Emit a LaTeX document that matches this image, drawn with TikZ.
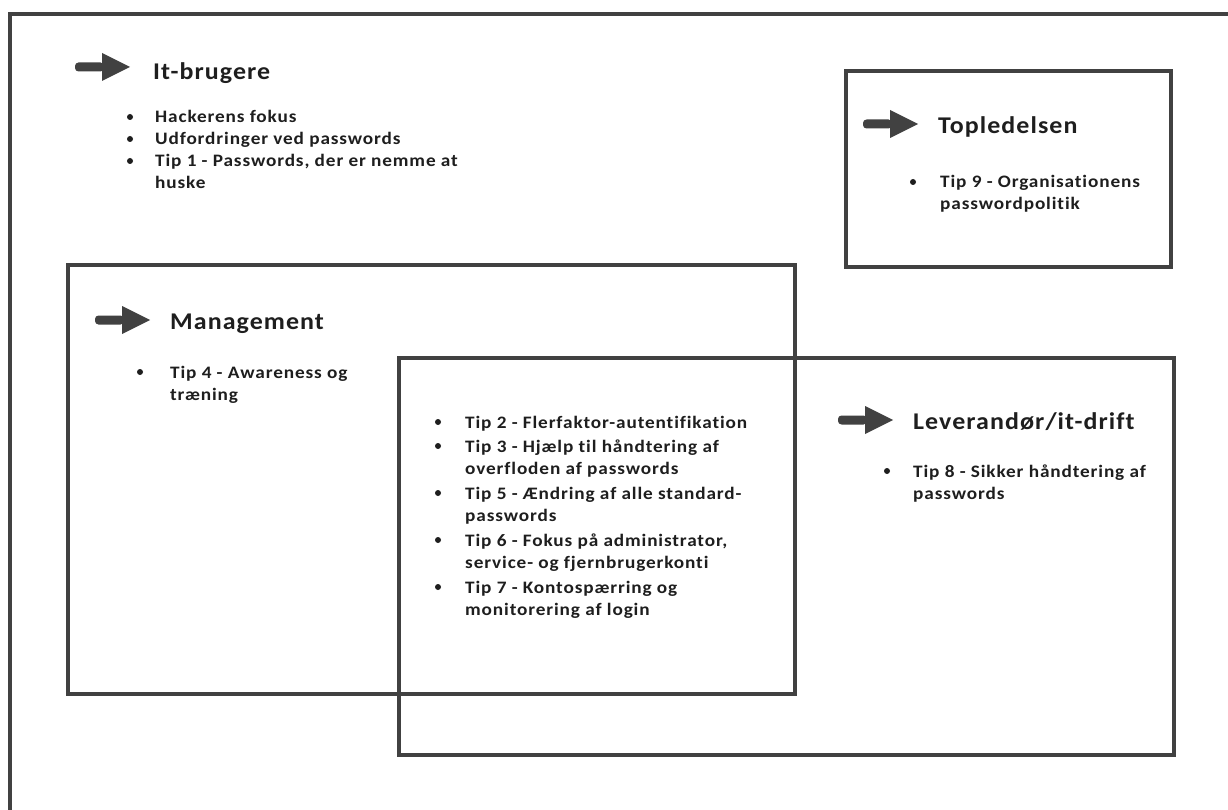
\documentclass[tikz,border=0pt]{standalone}
\usepackage{fontspec}
\setmainfont{Carlito}
\newfontfamily\bodyfont{Carlito}[FakeStretch=1.1,LetterSpace=5,Ligatures=NoCommon]
\newfontfamily\headfont{Carlito}[FakeStretch=1.08,LetterSpace=4.5,Ligatures=NoCommon]
\definecolor{frame}{HTML}{414141}
\definecolor{ink}{HTML}{1E1E1E}
\tikzset{
  x=1pt, y=-1pt,
  boxline/.style={draw=frame, line width=3.4pt},
  title/.style={anchor=base west, inner sep=0pt, text=ink, font=\headfont\fontsize{24}{28}\selectfont\bfseries},
  item/.style={anchor=base west, inner sep=0pt, text=ink, font=\bodyfont\fontsize{17.5}{21}\selectfont\bfseries},
  dot/.style={circle, fill=ink, inner sep=0pt, minimum size=6pt},
}
\newcommand{\blockarrow}[2]{% tail-left x, center y
  \fill[frame, rounded corners=3.5pt] (#1,#2-4.5) -- (#1+29,#2-4.5) -- (#1+29,#2+4.5) -- (#1,#2+4.5) -- cycle;
  \fill[frame] (#1+27,#2-14) -- (#1+55,#2) -- (#1+27,#2+14) -- cycle;
}
\begin{document}
\begin{tikzpicture}
\useasboundingbox (0,0) rectangle (1228,810);
\fill[white] (0,0) rectangle (1228,810);
% outer frame (open to the right and bottom)
\draw[boxline] (1230,14) -- (10,14) -- (10,812);
% boxes
\draw[boxline] (846,71) rectangle (1171,267);
\draw[boxline] (68,265) rectangle (795,694);
\draw[boxline] (399,358) rectangle (1174,755);

% It-brugere
\blockarrow{75}{67}
\node[title] (t1) at (153,80) {It-brugere};
\node[dot] (d11) at (130,117) {};
\node[item] (i11) at (155,123) {Hackerens fokus};
\node[dot] (d12) at (130,139) {};
\node[item] (i12) at (155,145) {Udfordringer ved passwords};
\node[dot] (d13) at (130,161) {};
\node[item] (i13) at (155,167) {Tip 1 - Passwords, der er nemme at};
\node[item] (i13b) at (155,189) {huske};

% Topledelsen
\blockarrow{863}{124}
\node[title] (t2) at (938,134) {Topledelsen};
\node[dot] (d21) at (913,182) {};
\node[item] (i21) at (940,188) {Tip 9 - Organisationens};
\node[item] (i21b) at (940,210) {passwordpolitik};

% Management
\blockarrow{95}{320}
\node[title] (t3) at (170,329) {Management};
\node[dot] (d31) at (140,372) {};
\node[item] (i31) at (170,378) {Tip 4 - Awareness og};
\node[item] (i31b) at (170,400) {træning};

% middle list
\node[dot] (d41) at (438,422) {};
\node[item] (i41) at (465,428) {Tip 2 - Flerfaktor-autentifikation};
\node[dot] (d42) at (438,446) {};
\node[item] (i42) at (465,452) {Tip 3 - Hjælp til håndtering af};
\node[item] (i42b) at (465,474) {overfloden af passwords};
\node[dot] (d43) at (438,493) {};
\node[item] (i43) at (465,499) {Tip 5 - Ændring af alle standard-};
\node[item] (i43b) at (465,521) {passwords};
\node[dot] (d44) at (438,540) {};
\node[item] (i44) at (465,546) {Tip 6 - Fokus på administrator,};
\node[item] (i44b) at (465,568) {service- og fjernbrugerkonti};
\node[dot] (d45) at (438,587) {};
\node[item] (i45) at (465,593) {Tip 7 - Kontospærring og};
\node[item] (i45b) at (465,615) {monitorering af login};

% Leverandør
\blockarrow{838}{420}
\node[title] (t5) at (913,429) {Leverandør/it-drift};
\node[dot] (d51) at (887,471) {};
\node[item] (i51) at (913,477) {Tip 8 - Sikker håndtering af};
\node[item] (i51b) at (913,499) {passwords};
\end{tikzpicture}
\end{document}
